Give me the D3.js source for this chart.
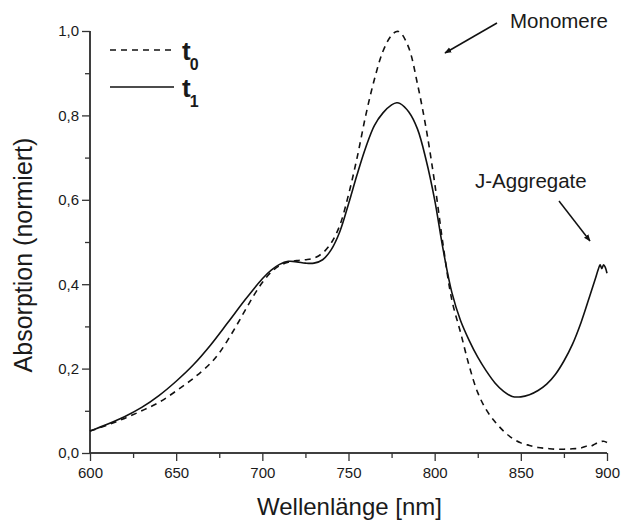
<!DOCTYPE html>
<html>
<head>
<meta charset="utf-8">
<script src="https://cdn.jsdelivr.net/npm/d3@7"></script>
<style>
html,body{margin:0;padding:0;background:#fff;}
svg{display:block;}
text{font-family:Arial,"Liberation Sans",Helvetica,sans-serif;fill:#1a1a1a;}
</style>
</head>
<body>
<svg id="chart" width="622" height="521"></svg>
<script>
// ---- data ----
const wavelengthT0 = [600,610,620,630,640,650,660,670,675,680,685,690,695,700,705,710,715,720,725,730,735,740,745,750,755,760,765,770,775,778,780,785,790,795,800,805,810,815,820,825,830,835,840,845,850,855,860,865,870,875,880,885,888,890,893,895,898,900];
const absorbT0    = [0.052,0.066,0.082,0.100,0.120,0.147,0.177,0.213,0.237,0.268,0.302,0.338,0.373,0.404,0.428,0.444,0.452,0.456,0.458,0.462,0.474,0.498,0.540,0.612,0.700,0.800,0.885,0.952,0.990,0.999,0.997,0.960,0.875,0.770,0.640,0.490,0.362,0.286,0.207,0.143,0.102,0.074,0.052,0.035,0.024,0.018,0.013,0.011,0.009,0.009,0.010,0.012,0.016,0.015,0.021,0.025,0.028,0.025];

const wavelengthT1 = [600,610,620,630,640,650,660,670,680,690,700,705,710,715,720,725,730,735,740,745,750,755,760,765,770,775,778,780,785,790,795,800,805,810,815,820,825,830,835,840,845,850,855,860,865,870,875,880,885,890,893,895,896,897,898,899,900];
const absorbT1    = [0.052,0.068,0.086,0.108,0.136,0.170,0.209,0.256,0.309,0.363,0.413,0.433,0.447,0.454,0.453,0.450,0.450,0.458,0.482,0.525,0.590,0.660,0.724,0.776,0.806,0.825,0.830,0.828,0.808,0.768,0.695,0.600,0.480,0.380,0.314,0.267,0.227,0.194,0.166,0.146,0.134,0.133,0.138,0.148,0.163,0.186,0.218,0.258,0.310,0.372,0.410,0.436,0.446,0.437,0.446,0.440,0.426];

const xTicks = [600,650,700,750,800,850,900];
const yTicks = [0,0.2,0.4,0.6,0.8,1.0];
const yTickLabels = ["0,0","0,2","0,4","0,6","0,8","1,0"];
const seriesNames = ["t","t"];
const seriesSubs = ["0","1"];
const xTitle = "Wellenlänge [nm]";
const yTitle = "Absorption (normiert)";
const annotations = ["Monomere","J-Aggregate"];

// ---- layout ----
const svg = d3.select("#chart");
const mL = 90, mR = 607, mT = 31, mB = 453;
const x = d3.scaleLinear().domain([600,900]).range([mL,mR]);
const y = d3.scaleLinear().domain([0,1]).range([mB,mT]);

const axisColor = "#333";

// x axis
const gx = svg.append("g").attr("transform",`translate(0,${mB})`);
gx.call(d3.axisBottom(x).tickValues(xTicks).tickSize(8).tickPadding(6).tickFormat(d3.format("d")));
gx.append("g").call(d3.axisBottom(x).tickValues(d3.range(625,900,50)).tickSize(5).tickFormat(""));
gx.selectAll(".domain").attr("stroke",axisColor).attr("stroke-width",1.5);
gx.selectAll(".tick line").attr("stroke",axisColor).attr("stroke-width",1.3);
gx.selectAll("text").attr("font-size",15).attr("font-family","Arial, 'Liberation Sans', sans-serif").attr("fill","#1a1a1a");
gx.selectAll(".domain").attr("d",`M${mL},0H${mR}`);

// y axis
const gy = svg.append("g").attr("transform",`translate(${mL},0)`);
gy.call(d3.axisLeft(y).tickValues(yTicks).tickSize(8).tickPadding(3).tickFormat((d,i)=>yTickLabels[i]));
gy.append("g").call(d3.axisLeft(y).tickValues([0.1,0.3,0.5,0.7,0.9]).tickSize(5).tickFormat(""));
gy.selectAll(".domain").attr("stroke",axisColor).attr("stroke-width",1.5);
gy.selectAll(".tick line").attr("stroke",axisColor).attr("stroke-width",1.3);
gy.selectAll("text").attr("font-size",15).attr("font-family","Arial, 'Liberation Sans', sans-serif").attr("fill","#1a1a1a");
gy.selectAll(".domain").attr("d",`M0,${mT}V${mB}`);

// titles
svg.append("text").attr("x",(mL+mR)/2 + 1).attr("y",515).attr("text-anchor","middle")
  .attr("font-size",24).text(xTitle);
svg.append("text").attr("transform",`translate(32,255) rotate(-90)`)
  .attr("text-anchor","middle").attr("font-size",25).text(yTitle);

// lines
const line = d3.line().x(d=>x(d[0])).y(d=>y(d[1])).curve(d3.curveCatmullRom.alpha(0.5));
const d0 = wavelengthT0.map((w,i)=>[w,absorbT0[i]]);
const d1 = wavelengthT1.map((w,i)=>[w,absorbT1[i]]);
svg.append("path").attr("d",line(d0)).attr("fill","none").attr("stroke","#111").attr("stroke-width",1.6).attr("stroke-dasharray","6,5");
svg.append("path").attr("d",line(d1)).attr("fill","none").attr("stroke","#111").attr("stroke-width",1.6);

// legend
const leg = svg.append("g");
[[50,"6,5"],[87,null]].forEach((c,i)=>{
  const l = leg.append("line").attr("x1",110).attr("x2",174).attr("y1",c[0]).attr("y2",c[0])
    .attr("stroke","#111").attr("stroke-width",1.6);
  if(c[1]) l.attr("stroke-dasharray",c[1]);
  const t = leg.append("text").attr("x",182).attr("y",c[0]+10).attr("font-size",26).attr("font-weight","bold");
  t.append("tspan").text(seriesNames[i]);
  t.append("tspan").attr("font-size",16).attr("dy",10).attr("dx",-1).text(seriesSubs[i]);
});

// annotations
svg.append("defs").append("marker").attr("id","ah").attr("viewBox","0 0 10 10").attr("refX",9).attr("refY",5)
  .attr("markerWidth",7).attr("markerHeight",7).attr("markerUnits","userSpaceOnUse").attr("orient","auto")
  .append("path").attr("d","M0,1L10,5L0,9z").attr("fill","#111");
svg.append("text").attr("x",510).attr("y",28).attr("font-size",20.5).text(annotations[0]);
svg.append("line").attr("x1",497).attr("y1",23).attr("x2",445).attr("y2",53).attr("stroke","#111").attr("stroke-width",1.5).attr("marker-end","url(#ah)");
svg.append("text").attr("x",475).attr("y",188).attr("font-size",20.5).text(annotations[1]);
svg.append("line").attr("x1",559).attr("y1",201).attr("x2",590).attr("y2",241).attr("stroke","#111").attr("stroke-width",1.5).attr("marker-end","url(#ah)");
</script>
</body>
</html>
